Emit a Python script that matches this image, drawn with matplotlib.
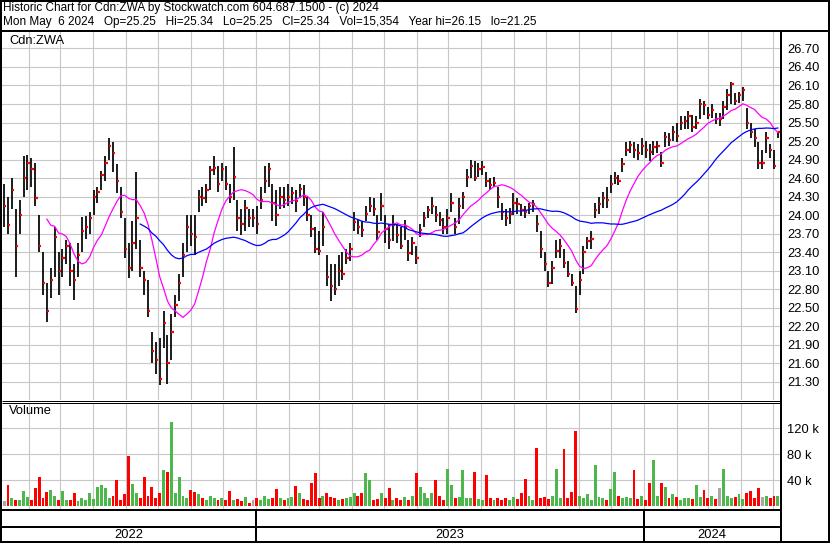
import numpy as np
import pandas as pd
import matplotlib
matplotlib.use('Agg')
import matplotlib.pyplot as plt
import matplotlib.dates as mdates
from matplotlib.lines import Line2D

plt.rcParams['font.family'] = ['Liberation Sans', 'DejaVu Sans']

# price bars (close / high / low), May 2022 - May 2024
closes = [
    24.15, 23.84, 24.40, 23.50, 24.00, 24.60, 24.85, 24.75,
    24.27, 23.50, 22.90, 22.45, 22.95, 23.65, 23.10, 23.30,
    23.50, 23.10, 22.95, 23.35, 23.75, 23.80, 23.95, 24.30,
    24.38, 24.65, 24.85, 25.12, 25.00, 24.55, 24.05, 23.45,
    23.15, 23.55, 23.95, 23.15, 22.95, 22.45, 21.80, 21.65,
    21.35, 22.25, 21.60, 22.10, 22.55, 22.90, 23.35, 23.80,
    23.70, 23.65, 24.30, 24.28, 24.40, 24.73, 24.76, 24.50,
    24.75, 24.50, 24.30, 24.62, 23.95, 23.85, 24.12, 23.95,
    23.95, 23.85, 24.25, 24.55, 24.75, 24.20, 24.00, 24.30,
    24.25, 24.30, 24.35, 24.22, 24.42, 24.30, 24.00, 23.78,
    23.45, 23.42, 23.80, 23.00, 22.85, 22.80, 23.10, 23.05,
    23.30, 23.45, 23.88, 23.80, 23.76, 24.02, 24.15, 24.10,
    23.72, 24.15, 23.78, 23.60, 23.84, 23.68, 23.50, 23.80,
    23.38, 23.55, 23.30, 23.76, 23.95, 24.08, 24.14, 24.00,
    23.92, 23.80, 23.95, 24.20, 23.80, 24.15, 24.30, 24.62,
    24.80, 24.60, 24.75, 24.78, 24.55, 24.48, 24.52, 24.30,
    24.05, 23.95, 24.02, 24.20, 24.18, 24.08, 24.05, 24.15,
    24.18, 23.85, 23.45, 23.20, 22.90, 23.15, 23.42, 23.50,
    23.22, 23.05, 22.90, 22.48, 22.95, 23.40, 23.58, 23.62,
    24.08, 24.18, 24.28, 24.25, 24.50, 24.60, 24.55, 24.82,
    25.06, 25.14, 25.05, 25.00, 25.12, 25.06, 25.02, 25.10,
    25.12, 24.85, 25.26, 25.22, 25.35, 25.28, 25.50, 25.52,
    25.60, 25.42, 25.50, 25.80, 25.78, 25.62, 25.70, 25.55,
    25.55, 25.75, 25.95, 26.12, 25.85, 25.95, 26.02, 25.50,
    25.35, 25.25, 24.85, 24.85, 25.25, 25.05, 24.80, 25.34,
]
highs = [
    24.50, 24.30, 24.60, 24.10, 24.25, 24.95, 24.98, 24.92,
    24.85, 24.00, 23.40, 22.90, 23.15, 23.80, 23.40, 23.45,
    23.60, 23.55, 23.20, 23.55, 23.97, 23.98, 24.05, 24.40,
    24.45, 24.72, 24.95, 25.25, 25.18, 24.82, 24.45, 23.95,
    23.55, 23.90, 24.70, 23.60, 23.10, 22.95, 22.10, 21.95,
    22.00, 22.45, 22.05, 22.40, 22.70, 23.05, 23.55, 24.00,
    24.00, 24.00, 24.40, 24.45, 24.50, 24.80, 24.95, 24.80,
    24.85, 24.80, 24.50, 25.10, 24.25, 24.10, 24.25, 24.10,
    24.10, 24.15, 24.45, 24.80, 24.85, 24.50, 24.40, 24.45,
    24.45, 24.50, 24.45, 24.40, 24.50, 24.48, 24.30, 24.00,
    23.80, 23.75, 24.05, 23.35, 23.20, 23.20, 23.35, 23.40,
    23.45, 23.55, 24.05, 23.92, 23.90, 24.15, 24.30, 24.28,
    24.00, 24.35, 24.00, 23.85, 24.00, 23.85, 23.80, 23.92,
    23.60, 23.65, 23.50, 23.85, 24.05, 24.15, 24.30, 24.15,
    24.05, 23.95, 24.10, 24.35, 23.95, 24.28, 24.38, 24.75,
    24.90, 24.88, 24.85, 24.88, 24.70, 24.60, 24.62, 24.45,
    24.20, 24.10, 24.12, 24.35, 24.28, 24.18, 24.15, 24.20,
    24.25, 24.00, 23.75, 23.40, 23.10, 23.25, 23.60, 23.62,
    23.45, 23.25, 23.05, 22.85, 23.10, 23.50, 23.65, 23.75,
    24.20, 24.30, 24.38, 24.45, 24.65, 24.70, 24.65, 24.92,
    25.18, 25.20, 25.18, 25.15, 25.25, 25.20, 25.15, 25.20,
    25.20, 25.02, 25.35, 25.33, 25.45, 25.50, 25.60, 25.60,
    25.68, 25.62, 25.60, 25.88, 25.85, 25.75, 25.80, 25.65,
    25.65, 25.85, 26.05, 26.15, 25.98, 26.00, 26.08, 25.73,
    25.50, 25.40, 25.18, 25.05, 25.35, 25.15, 25.05, 25.34,
]
lows = [
    23.80, 23.70, 24.10, 23.00, 23.70, 24.30, 24.40, 24.45,
    24.15, 23.40, 22.70, 22.27, 22.65, 23.00, 22.70, 23.00,
    23.20, 22.85, 22.62, 23.00, 23.40, 23.62, 23.70, 24.00,
    24.20, 24.40, 24.55, 24.90, 24.70, 24.35, 23.95, 23.30,
    22.98, 23.10, 23.45, 23.00, 22.70, 22.35, 21.60, 21.43,
    21.25, 21.85, 21.27, 21.65, 22.35, 22.60, 23.00, 23.40,
    23.50, 23.35, 24.05, 24.15, 24.20, 24.40, 24.65, 24.38,
    24.55, 24.40, 24.20, 24.25, 23.75, 23.68, 23.75, 23.80,
    23.80, 23.70, 24.10, 24.35, 24.45, 23.90, 23.82, 24.10,
    24.12, 24.15, 24.18, 24.05, 24.28, 24.15, 23.90, 23.65,
    23.38, 23.35, 23.50, 22.85, 22.60, 22.70, 22.85, 22.95,
    23.20, 23.25, 23.75, 23.70, 23.65, 23.90, 24.05, 23.98,
    23.60, 23.90, 23.55, 23.45, 23.58, 23.55, 23.45, 23.60,
    23.25, 23.35, 23.20, 23.65, 23.80, 23.95, 24.02, 23.88,
    23.82, 23.70, 23.70, 24.05, 23.70, 23.85, 24.10, 24.45,
    24.60, 24.55, 24.62, 24.65, 24.45, 24.40, 24.45, 24.12,
    23.92, 23.82, 23.85, 24.00, 24.02, 23.98, 23.95, 24.02,
    24.05, 23.72, 23.30, 23.10, 22.83, 22.88, 23.30, 23.30,
    23.15, 23.00, 22.85, 22.42, 22.70, 23.05, 23.45, 23.45,
    23.95, 24.02, 24.12, 24.12, 24.35, 24.50, 24.48, 24.70,
    24.95, 25.00, 24.92, 24.90, 24.98, 24.92, 24.88, 24.98,
    25.00, 24.78, 25.10, 25.12, 25.20, 25.18, 25.38, 25.40,
    25.40, 25.35, 25.40, 25.55, 25.62, 25.55, 25.58, 25.48,
    25.45, 25.55, 25.70, 25.80, 25.78, 25.82, 25.85, 25.40,
    25.25, 25.10, 24.75, 24.75, 25.00, 24.92, 24.75, 25.25,
]
# volume in thousands
volumes = [
    8, 32, 12, 10, 9, 23, 14, 10,
    27, 45, 12, 22, 24, 15, 10, 23,
    9, 10, 20, 8, 12, 9, 20, 11,
    30, 32, 27, 12, 15, 40, 10, 18,
    77, 34, 20, 12, 45, 15, 30, 12,
    20, 55, 52, 130, 20, 45, 15, 12,
    25, 22, 18, 12, 10, 15, 12, 10,
    12, 10, 23, 9, 11, 8, 14, 5,
    9, 12, 10, 15, 11, 13, 26, 12,
    10, 12, 14, 31, 20, 11, 9, 36,
    51, 12, 15, 20, 14, 12, 10, 11,
    12, 14, 20, 15, 20, 51, 40, 10,
    11, 20, 12, 27, 9, 12, 10, 14,
    10, 15, 51, 30, 20, 12, 20, 40,
    15, 10, 57, 32, 12, 14, 56, 12,
    13, 53, 11, 10, 48, 12, 9, 12,
    10, 12, 9, 14, 11, 20, 41, 15,
    10, 89, 12, 14, 11, 15, 57, 12,
    87, 12, 22, 116, 15, 12, 18, 10,
    63, 14, 12, 10, 26, 52, 15, 12,
    14, 12, 56, 11, 15, 10, 36, 71,
    15, 36, 30, 12, 18, 14, 10, 12,
    13, 11, 32, 14, 24, 12, 15, 11,
    27, 57, 15, 12, 14, 18, 11, 20,
    23, 12, 27, 14, 15, 12, 16, 15,
]
price_ticks = [21.30, 21.60, 21.90, 22.20, 22.50, 22.80, 23.10, 23.40, 23.70,
               24.00, 24.30, 24.60, 24.90, 25.20, 25.50, 25.80, 26.10, 26.40, 26.70]
vol_ticks = [40, 80, 120]
vol_labels = ['40 k', '80 k', '120 k']
years = ['2022', '2023', '2024']

title1 = 'Historic Chart for Cdn:ZWA by Stockwatch.com 604.687.1500 - (c) 2024'
title2 = ('Mon May  6 2024   Op=25.25   Hi=25.34   Lo=25.25   Cl=25.34   '
          'Vol=15,354   Year hi=26.15   lo=21.25')

W, H = 830, 543
fig = plt.figure(figsize=(W / 100, H / 100), dpi=100)
fig.patch.set_facecolor('white')


def box(l, t, r, b):
    return [l / W, 1 - b / H, (r - l) / W, (b - t) / H]


def line(x0, y0, x1, y1, lw=2):
    fig.add_artist(Line2D([x0 / W, x1 / W], [1 - y0 / H, 1 - y1 / H],
                          color='black', lw=lw * 0.72, solid_capstyle='butt'))


dates = pd.date_range('2022-05-09', '2024-05-06', periods=len(closes))
x = mdates.date2num(dates)
step = x[1] - x[0]
xlim = (mdates.date2num(pd.Timestamp('2022-05-07')),
        mdates.date2num(pd.Timestamp('2024-05-08')))
grid_c = '#c8c8c8'
fs = 9.3

# ---- price panel
ax = fig.add_axes(box(2, 32, 780, 400))
ax.set_xlim(xlim)
ax.set_ylim(21.003, 26.967)
ax.set_yticks(price_ticks)
ax.set_yticklabels(['%.2f' % t for t in price_ticks])
ax.yaxis.tick_right()
ax.tick_params(axis='y', length=0, pad=5, labelsize=fs)
ax.xaxis.set_major_locator(mdates.MonthLocator())
ax.tick_params(axis='x', length=0, labelbottom=False)
ax.grid(True, color=grid_c, lw=0.8)
ax.set_axisbelow(True)
for s in ax.spines.values():
    s.set_visible(False)

ax.vlines(x, lows, highs, color='black', lw=1.25)
ax.hlines(closes, x, x + step * 0.6, color='red', lw=1.6)

c = pd.Series(closes)
ax.plot(x, c.rolling(12).mean(), color='#ff00ff', lw=0.9)
ax.plot(x, c.rolling(36).mean(), color='#0000ff', lw=0.9)
ax.text(7 / 778, 1 - 3 / 368, 'Cdn:ZWA', transform=ax.transAxes,
        ha='left', va='top', fontsize=fs)

# ---- volume panel
axv = fig.add_axes(box(2, 403, 780, 509))
axv.set_xlim(xlim)
axv.set_ylim(-4.6, 158.5)
chg = np.diff(np.r_[closes[0], closes])
cols = np.where(chg > 0.004, '#4cb84c', np.where(chg < -0.004, '#ff0000', '#a8a8a8'))
axv.bar(x, volumes, width=step * 0.75, color=cols, align='center')
axv.set_yticks(vol_ticks)
axv.set_yticklabels(vol_labels)
axv.yaxis.tick_right()
axv.tick_params(axis='y', length=0, pad=5, labelsize=fs)
axv.xaxis.set_major_locator(mdates.MonthLocator())
axv.tick_params(axis='x', length=0, labelbottom=False)
axv.grid(True, color=grid_c, lw=0.8)
axv.set_axisbelow(True)
for s in axv.spines.values():
    s.set_visible(False)
axv.text(7 / 778, 1 - 2 / 106, 'Volume', transform=axv.transAxes,
         ha='left', va='top', fontsize=fs)

# ---- date rows
axd = fig.add_axes(box(2, 510, 780, 541))
axd.set_xlim(xlim)
axd.set_ylim(0, 1)
axd.set_xticks([])
axd.set_yticks([])
for s in axd.spines.values():
    s.set_visible(False)
edges = [xlim[0], mdates.date2num(pd.Timestamp('2023-01-01')),
         mdates.date2num(pd.Timestamp('2024-01-01')), xlim[1]]
for e in edges[1:3]:
    axd.axvline(e, color='black', lw=1.44)
for i, yr in enumerate(years):
    axd.text((edges[i] + edges[i + 1]) / 2, 0.2, yr, ha='center', va='center',
             fontsize=fs)

# ---- frame lines
line(0, 1, W, 1)
line(1, 0, 1, H)
line(828.5, 0, 828.5, H)
line(0, 541.5, W, 541.5)
line(0, 31, W, 31)
line(781, 31, 781, H)
line(2, 400.5, 781, 400.5, lw=1)
line(2, 403, 781, 403, lw=1)
line(2, 510, 781, 510)
line(2, 527, 781, 527)

fig.text(3 / W, 1 - 2 / H, title1, ha='left', va='top', fontsize=8.5)
fig.text(3 / W, 1 - 16 / H, title2, ha='left', va='top', fontsize=8.5)

fig.savefig('out.png', dpi=100)
